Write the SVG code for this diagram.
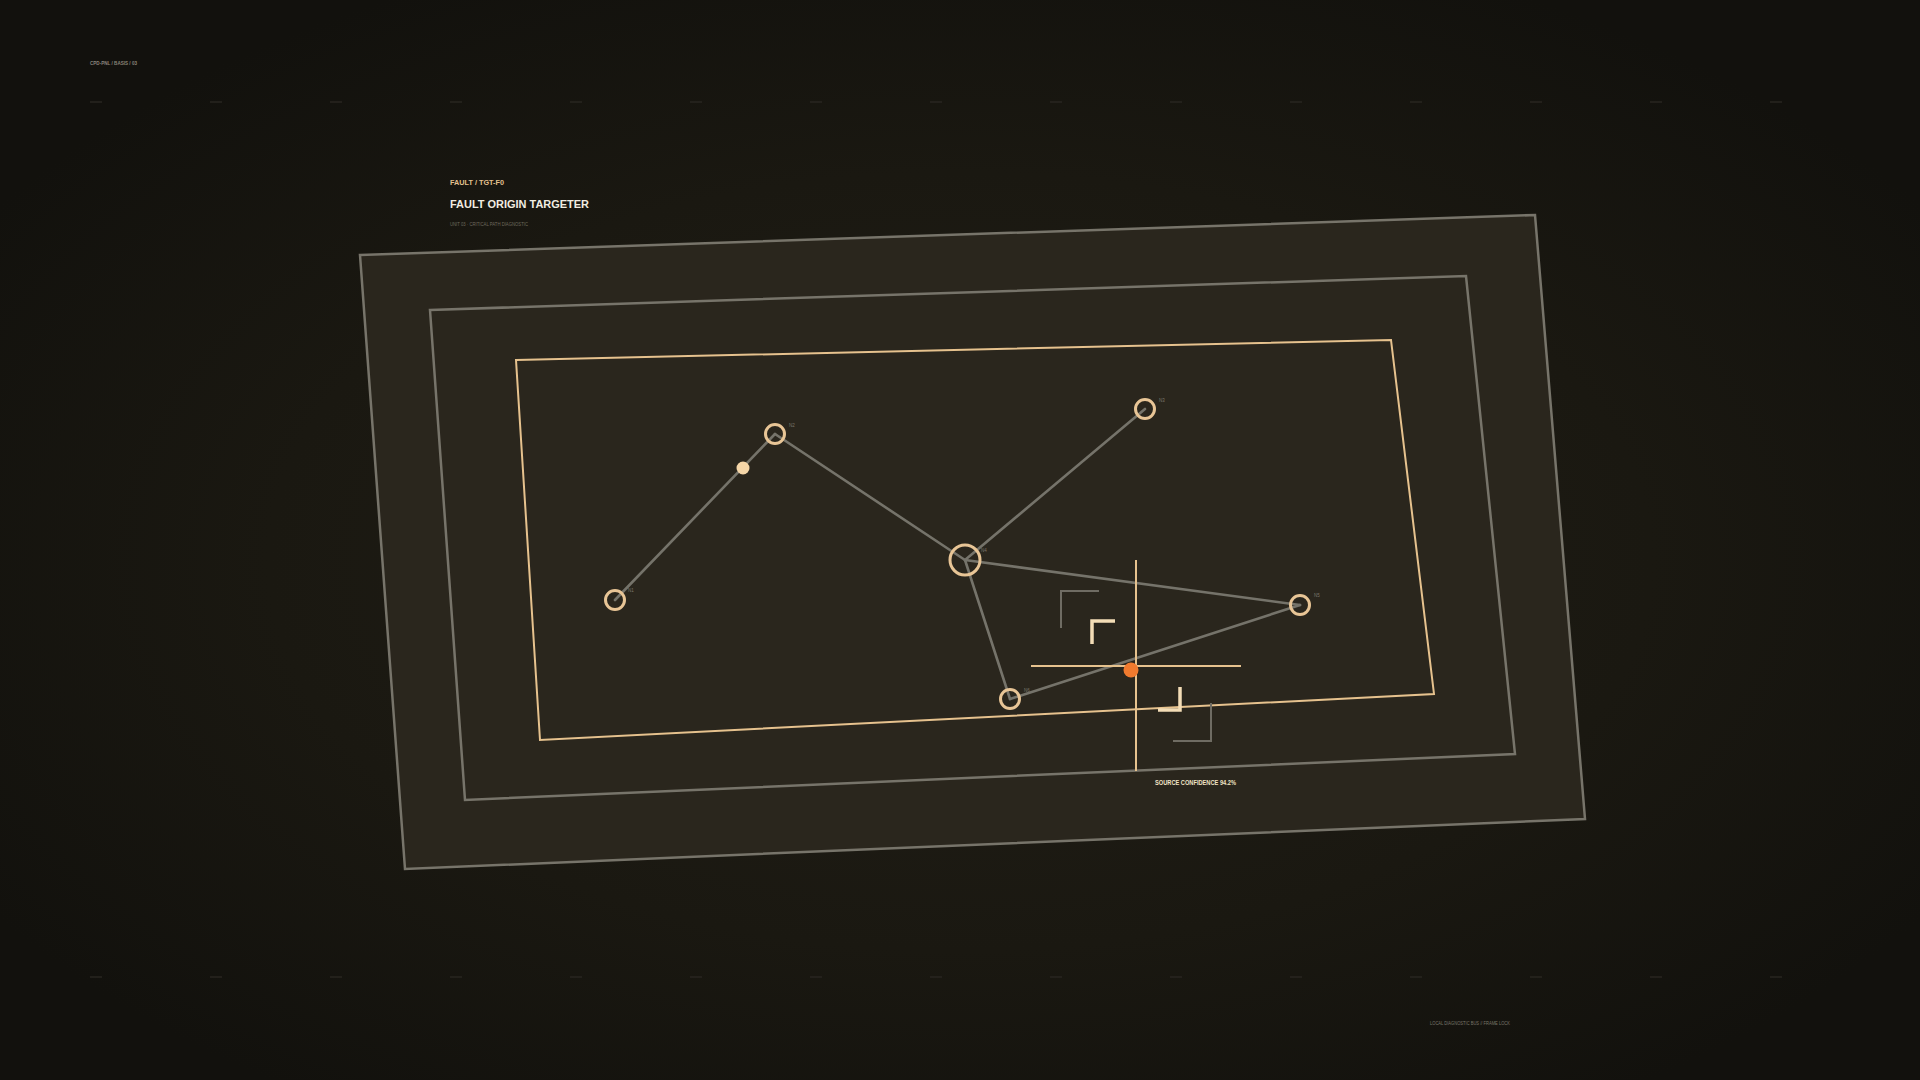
<svg xmlns="http://www.w3.org/2000/svg" width="1920" height="1080" viewBox="0 0 1920 1080">
<defs>
<radialGradient id="bg" cx="50%" cy="52%" r="60%">
<stop offset="0" stop-color="#221f17"/>
<stop offset="0.6" stop-color="#1a1811"/>
<stop offset="1" stop-color="#12110d"/>
</radialGradient>
<style>
.tick{stroke:#282620;stroke-width:1.5}
.frame{fill:#2a261d;stroke:#77746a;stroke-width:2.5}
.inner{fill:#2a261d;stroke:#e6c28e;stroke-width:2}
.edge{stroke:#75736a;stroke-width:2.6;fill:none;stroke-linecap:round}
.node{fill:none;stroke:#e8c596;stroke-width:3}
.lbl{font-family:"Liberation Sans",Arial,sans-serif;font-size:4.5px;fill:#7a766a}
.sans{font-family:"Liberation Sans",Arial,sans-serif}
.br{fill:none;stroke:#f3ddb6;stroke-width:3.5}
.gbr{fill:none;stroke:#6f6c63;stroke-width:2}
.cross{stroke:#e6c28e;stroke-width:2}
</style>
</defs>
<rect width="1920" height="1080" fill="url(#bg)"/>
<g id="ticks">
<path class="tick" d="M90 102h12M210 102h12M330 102h12M450 102h12M570 102h12M690 102h12M810 102h12M930 102h12M1050 102h12M1170 102h12M1290 102h12M1410 102h12M1530 102h12M1650 102h12M1770 102h12"/>
<path class="tick" d="M90 977h12M210 977h12M330 977h12M450 977h12M570 977h12M690 977h12M810 977h12M930 977h12M1050 977h12M1170 977h12M1290 977h12M1410 977h12M1530 977h12M1650 977h12M1770 977h12"/>
</g>
<text class="sans" x="90" y="65" font-size="5.5" font-weight="bold" fill="#8a857a" textLength="47" lengthAdjust="spacingAndGlyphs">CPD-PNL / BASIS / 03</text>
<g id="header">
<text class="sans" x="450" y="185" font-size="7.8" font-weight="bold" fill="#e3c18f" textLength="54" lengthAdjust="spacingAndGlyphs">FAULT / TGT-F0</text>
<text class="sans" x="450" y="208" font-size="11" font-weight="bold" fill="#f2ede2" textLength="139" lengthAdjust="spacingAndGlyphs">FAULT ORIGIN TARGETER</text>
<text class="sans" x="450" y="226" font-size="4.8" fill="#6e6a5e" textLength="78" lengthAdjust="spacingAndGlyphs">UNIT 03 · CRITICAL PATH DIAGNOSTIC</text>
</g>
<g id="frame-outer"><polygon class="frame" points="360,255 1535,215 1585,819 405,869"/></g>
<g id="frame-middle"><polygon class="frame" points="430,310 1466,276 1515,754 465,800"/></g>
<g id="frame-inner"><polygon class="inner" points="516,360 1391,340 1434,694 540,740"/></g>
<g id="connectors">
<line class="edge" x1="615" y1="600" x2="775" y2="434"/>
<line class="edge" x1="775" y1="434" x2="965" y2="560"/>
<line class="edge" x1="965" y1="560" x2="1145" y2="409"/>
<line class="edge" x1="965" y1="560" x2="1300" y2="605"/>
<line class="edge" x1="965" y1="560" x2="1010" y2="699"/>
<line class="edge" x1="1010" y1="699" x2="1300" y2="605"/>
</g>
<g id="node-n1"><circle class="node" cx="615" cy="600" r="9.5"/><text class="lbl" x="628" y="592">N1</text></g>
<g id="node-n2"><circle class="node" cx="775" cy="434" r="9.5"/><text class="lbl" x="789" y="427">N2</text></g>
<g id="node-probe"><circle cx="743" cy="468" r="6.5" fill="#f5d6a8"/></g>
<g id="node-n3"><circle class="node" cx="1145" cy="409" r="9.5"/><text class="lbl" x="1159" y="402">N3</text></g>
<g id="node-hub"><circle class="node" cx="965" cy="560" r="15"/><text class="lbl" x="981" y="552">N4</text></g>
<g id="node-n5"><circle class="node" cx="1300" cy="605" r="9.5"/><text class="lbl" x="1314" y="597">N5</text></g>
<g id="node-n6"><circle class="node" cx="1010" cy="699" r="9.5"/><text class="lbl" x="1024" y="692">N6</text></g>
<g id="target">
<line class="cross" x1="1136" y1="560" x2="1136" y2="771"/>
<line class="cross" x1="1031" y1="666" x2="1241" y2="666"/>
<path class="gbr" d="M1061 628V591H1099"/>
<path class="gbr" d="M1211 703V741H1173"/>
<path class="br" d="M1092 644V621H1115"/>
<path class="br" d="M1180 687V710H1158"/>
<circle cx="1131" cy="670" r="7.5" fill="#f07a2e"/>
<text class="sans" x="1155" y="785" font-size="6.8" font-weight="bold" fill="#f1e4c6" textLength="81" lengthAdjust="spacingAndGlyphs">SOURCE CONFIDENCE 94.2%</text>
</g>
<text class="sans" x="1430" y="1025" font-size="4.8" fill="#7a766a" textLength="80" lengthAdjust="spacingAndGlyphs">LOCAL DIAGNOSTIC BUS // FRAME LOCK</text>
</svg>
